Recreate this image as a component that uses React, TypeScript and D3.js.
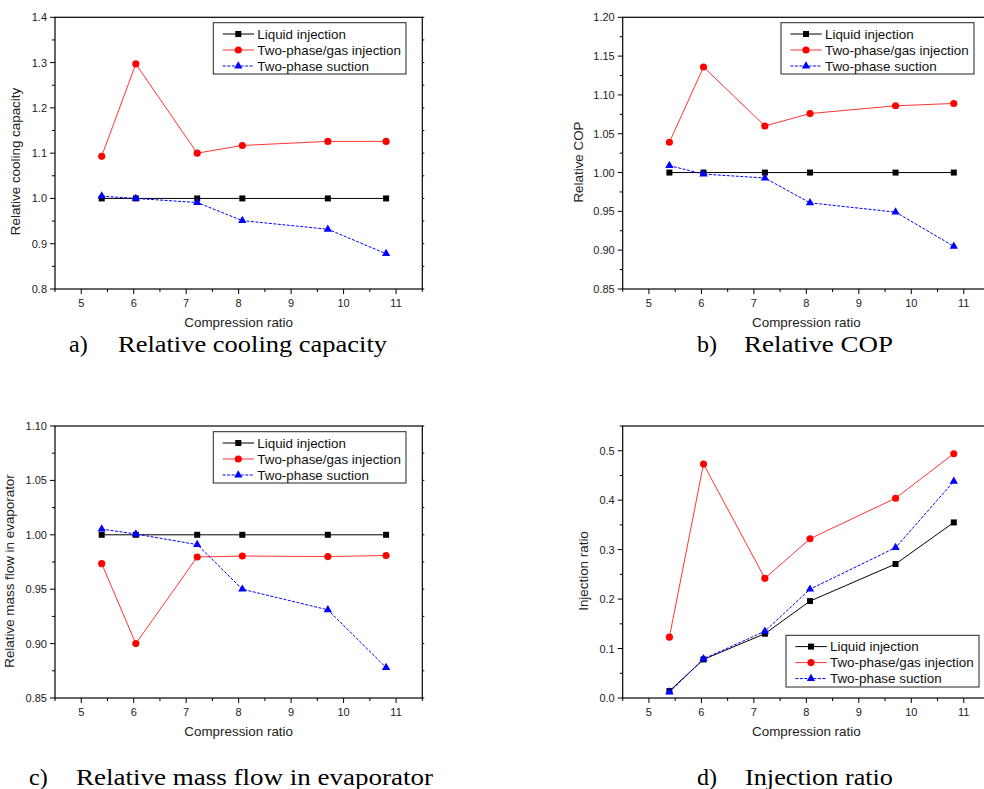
import React from "react";
import * as d3 from "d3";

const compressionRatio = [5.39, 6.04, 7.21, 8.07, 9.7, 10.81];
const seriesNames = ["Liquid injection", "Two-phase/gas injection", "Two-phase suction"];

const coolingLiquid = [1.0, 1.0, 1.0, 1.0, 1.0, 1.0];
const coolingTwoPhaseGas = [1.093, 1.297, 1.1, 1.117, 1.126, 1.126];
const coolingSuction = [1.005, 1.0, 0.991, 0.951, 0.932, 0.878];

const copLiquid = [1.0, 1.0, 1.0, 1.0, 1.0, 1.0];
const copTwoPhaseGas = [1.039, 1.136, 1.06, 1.076, 1.086, 1.089];
const copSuction = [1.009, 0.998, 0.993, 0.961, 0.949, 0.905];

const massLiquid = [1.0, 1.0, 1.0, 1.0, 1.0, 1.0];
const massTwoPhaseGas = [0.9735, 0.9, 0.9796, 0.9805, 0.98, 0.981];
const massSuction = [1.0053, 1.0007, 0.991, 0.95, 0.931, 0.878];

const injLiquid = [0.014, 0.078, 0.13, 0.196, 0.271, 0.355];
const injTwoPhaseGas = [0.123, 0.473, 0.242, 0.322, 0.404, 0.494];
const injSuction = [0.012, 0.079, 0.135, 0.22, 0.304, 0.438];

const xTicks = [5, 6, 7, 8, 9, 10, 11];
const yLabels = [
  "Relative cooling capacity",
  "Relative COP",
  "Relative mass flow in evaporator",
  "Injection ratio",
];
const captionLetters = ["a)", "b)", "c)", "d)"];
const captionTexts = [
  "Relative cooling capacity",
  "Relative COP",
  "Relative mass flow in evaporator",
  "Injection ratio",
];

const styles = [
  { color: "#000000", dash: "none", width: 1, symbol: d3.symbolSquare, size: 36 },
  { color: "#ff0000", dash: "none", width: 0.8, symbol: d3.symbolCircle, size: 40 },
  { color: "#0000ff", dash: "3,1.5", width: 1, symbol: d3.symbolTriangle, size: 30 },
];

const FONT = "'Liberation Sans', Arial, sans-serif";
const SERIF = "'Liberation Serif', 'Times New Roman', serif";

type PanelSpec = {
  left: number;
  top: number;
  right: number;
  bottom: number;
  yDomain: [number, number];
  yStep: number;
  yFirst: number;
  yLast: number;
  fmt: string;
  series: number[][];
  ylabel: string;
  ylabelX: number;
  ylabelY: number;
  legend: { x: number; y: number; w: number; h: number };
  caption: { letter: string; text: string; lx: number; tx: number; tw: number; y: number };
};

const panels: PanelSpec[] = [
  {
    left: 55, top: 17.3, right: 422.3, bottom: 289,
    yDomain: [0.8, 1.4], yStep: 0.1, yFirst: 0.8, yLast: 1.4, fmt: ".1f",
    series: [coolingLiquid, coolingTwoPhaseGas, coolingSuction],
    ylabel: yLabels[0], ylabelX: 20, ylabelY: 161.5,
    legend: { x: 213.3, y: 22.7, w: 192.7, h: 51.3 },
    caption: { letter: captionLetters[0], text: captionTexts[0], lx: 69, tx: 118, tw: 269, y: 352 },
  },
  {
    left: 622.7, top: 17.3, right: 990, bottom: 289,
    yDomain: [0.85, 1.2], yStep: 0.05, yFirst: 0.85, yLast: 1.2, fmt: ".2f",
    series: [copLiquid, copTwoPhaseGas, copSuction],
    ylabel: yLabels[1], ylabelX: 583, ylabelY: 162,
    legend: { x: 781, y: 22.7, w: 193, h: 51.3 },
    caption: { letter: captionLetters[1], text: captionTexts[1], lx: 697, tx: 744, tw: 149, y: 352 },
  },
  {
    left: 55, top: 426, right: 422.3, bottom: 698,
    yDomain: [0.85, 1.1], yStep: 0.05, yFirst: 0.85, yLast: 1.1, fmt: ".2f",
    series: [massLiquid, massTwoPhaseGas, massSuction],
    ylabel: yLabels[2], ylabelX: 14, ylabelY: 571,
    legend: { x: 213.3, y: 431.7, w: 192.7, h: 51.3 },
    caption: { letter: captionLetters[2], text: captionTexts[2], lx: 29, tx: 76, tw: 357, y: 785 },
  },
  {
    left: 622.7, top: 426, right: 990, bottom: 698,
    yDomain: [0, 0.55], yStep: 0.1, yFirst: 0, yLast: 0.5, fmt: ".1f",
    series: [injLiquid, injTwoPhaseGas, injSuction],
    ylabel: yLabels[3], ylabelX: 587.5, ylabelY: 571,
    legend: { x: 786, y: 635.3, w: 193, h: 51.7 },
    caption: { letter: captionLetters[3], text: captionTexts[3], lx: 697, tx: 745, tw: 148, y: 785 },
  },
];

function Panel({ p }: { p: PanelSpec }) {
  const x = d3.scaleLinear().domain([4.5, 11.5]).range([p.left, p.right]);
  const y = d3.scaleLinear().domain(p.yDomain).range([p.bottom, p.top]);
  const n = Math.round((p.yLast - p.yFirst) / p.yStep);
  const yMajor = d3.range(n + 1).map((i) => +(p.yFirst + i * p.yStep).toFixed(4));
  const yMinor: number[] = [];
  const nMinor = Math.round((p.yDomain[1] - p.yDomain[0]) / (p.yStep / 2));
  for (let i = 0; i <= nMinor; i++) {
    const v = +(p.yDomain[0] + (i * p.yStep) / 2).toFixed(4);
    if (!yMajor.some((m) => Math.abs(m - v) < 1e-6)) yMinor.push(v);
  }
  const xMinor = d3.range(4.5, 11.51, 1);
  const fmt = d3.format(p.fmt);
  const line = d3
    .line<number>()
    .x((_, i) => x(compressionRatio[i]))
    .y((d) => y(d));
  const L = p.legend;
  return (
    <g>
      {p.series.map((vals, si) => {
        const st = styles[si];
        const sym = d3.symbol().type(st.symbol).size(st.size)() as string;
        return (
          <g key={si}>
            <path d={line(vals) as string} fill="none" stroke={st.color} strokeWidth={st.width} strokeDasharray={st.dash} />
            {vals.map((v, i) => (
              <path key={i} d={sym} transform={`translate(${x(compressionRatio[i])},${y(v)})`} fill={st.color} />
            ))}
          </g>
        );
      })}
      <rect x={p.left} y={p.top} width={p.right - p.left} height={p.bottom - p.top} fill="none" stroke="#000" strokeWidth={1.2} />
      {yMajor.map((v) => (
        <g key={"ym" + v}>
          <line x1={p.left - 5} x2={p.left} y1={y(v)} y2={y(v)} stroke="#000" strokeWidth={1} />
          <line x1={p.right} x2={p.right + 2} y1={y(v)} y2={y(v)} stroke="#000" strokeWidth={1} />
          <text x={p.left - 8} y={y(v) + 4} textAnchor="end" fontFamily={FONT} fontSize={11} fill="#222">
            {fmt(v)}
          </text>
        </g>
      ))}
      {yMinor.map((v) => (
        <g key={"yn" + v}>
          <line x1={p.left - 3} x2={p.left} y1={y(v)} y2={y(v)} stroke="#000" strokeWidth={1} />
          <line x1={p.right} x2={p.right + 2} y1={y(v)} y2={y(v)} stroke="#000" strokeWidth={1} />
        </g>
      ))}
      {xTicks.map((v) => (
        <g key={"xm" + v}>
          <line x1={x(v)} x2={x(v)} y1={p.bottom} y2={p.bottom + 5} stroke="#000" strokeWidth={1} />
          <text x={x(v)} y={p.bottom + 18} textAnchor="middle" fontFamily={FONT} fontSize={11} fill="#222">
            {v}
          </text>
        </g>
      ))}
      {xMinor.map((v) => (
        <line key={"xn" + v} x1={x(v)} x2={x(v)} y1={p.bottom} y2={p.bottom + 3} stroke="#000" strokeWidth={1} />
      ))}
      <text x={p.left + 183.65} y={p.bottom + 38} textAnchor="middle" fontFamily={FONT} fontSize={13.4} fill="#222">
        Compression ratio
      </text>
      <text
        transform={`translate(${p.ylabelX},${p.ylabelY}) rotate(-90)`}
        textAnchor="middle"
        fontFamily={FONT}
        fontSize={13.4}
        fill="#222"
      >
        {p.ylabel}
      </text>
      <rect x={L.x} y={L.y} width={L.w} height={L.h} fill="#fff" stroke="#222" strokeWidth={1} />
      {seriesNames.map((name, si) => {
        const st = styles[si];
        const cy = L.y + 11.3 + si * 16;
        const sym = d3.symbol().type(st.symbol).size(st.size)() as string;
        return (
          <g key={name}>
            <line x1={L.x + 9.4} x2={L.x + 40.7} y1={cy} y2={cy} stroke={st.color} strokeWidth={st.width} strokeDasharray={st.dash} />
            <path d={sym} transform={`translate(${L.x + 25},${cy})`} fill={st.color} />
            <text x={L.x + 44} y={cy + 4.8} fontFamily={FONT} fontSize={13.4} fill="#111">
              {name}
            </text>
          </g>
        );
      })}
      <text x={p.caption.lx} y={p.caption.y} fontFamily={SERIF} fontSize={24} fill="#000">
        {p.caption.letter}
      </text>
      <text
        x={p.caption.tx}
        y={p.caption.y}
        fontFamily={SERIF}
        fontSize={24}
        fill="#000"
        textLength={p.caption.tw}
        lengthAdjust="spacingAndGlyphs"
      >
        {p.caption.text}
      </text>
    </g>
  );
}

export default function App() {
  return (
    <svg
      width={984}
      height={789}
      viewBox="0 0 984 789"
      style={{ position: "absolute", left: 0, top: 0, background: "#fff" }}
    >
      <rect x={0} y={0} width={984} height={789} fill="#fff" />
      {panels.map((p, i) => (
        <Panel key={i} p={p} />
      ))}
    </svg>
  );
}
